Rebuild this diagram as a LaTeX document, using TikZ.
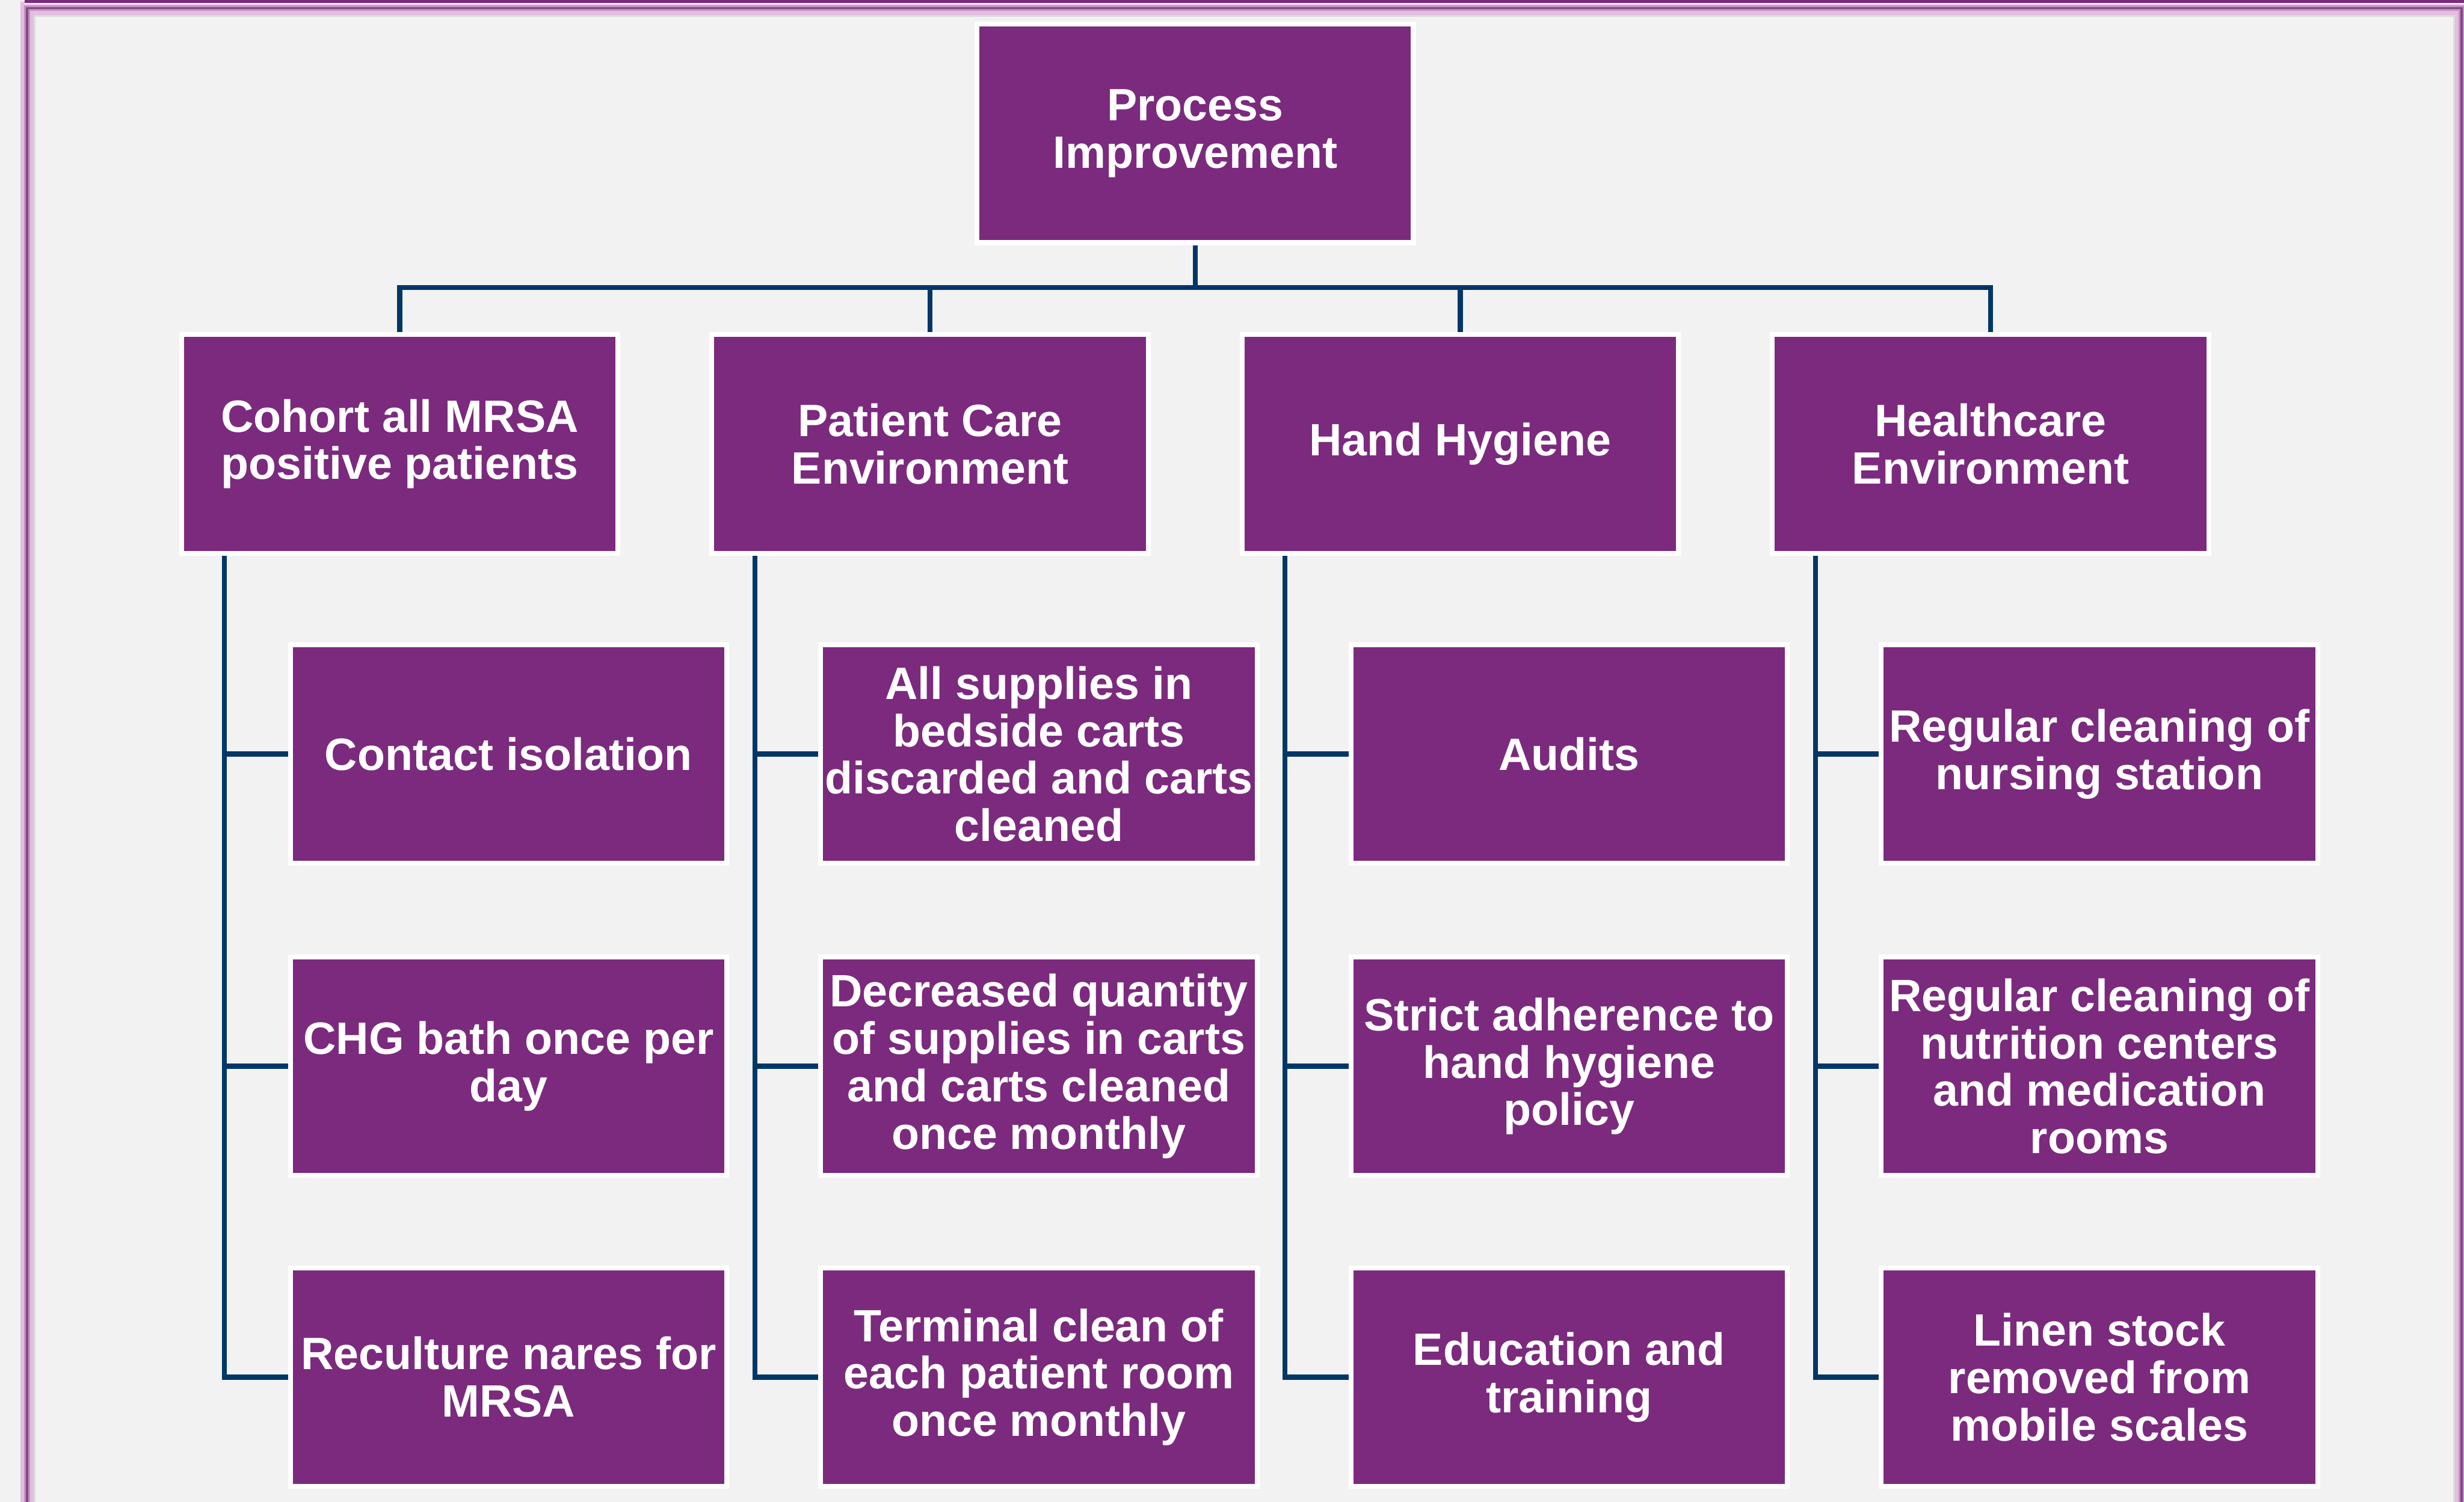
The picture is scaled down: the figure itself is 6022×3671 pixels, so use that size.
\documentclass[tikz,border=0pt]{standalone}
\usepackage{fontspec}
\setmainfont{Liberation Sans}
\usetikzlibrary{calc}
\definecolor{boxpurple}{HTML}{7B2A7E}
\definecolor{linknavy}{HTML}{003767}
\definecolor{pagegray}{HTML}{F2F2F2}
\definecolor{framedark}{HTML}{7E4A82}
\definecolor{frameglow}{HTML}{E2BEDF}
\definecolor{frameglowmid}{HTML}{C48EC1}
\definecolor{shadegray}{HTML}{DCDCDC}

\begin{document}
\begin{tikzpicture}[x=0.01cm,y=-0.01cm,
  box/.style={draw=white, line width=0.12cm, fill=boxpurple, text=white,
    minimum width=10.66cm, minimum height=5.34cm, inner sep=0pt,
    align=center, font=\fontsize{31.5}{33}\selectfont\bfseries},
  conn/.style={draw=linknavy, line width=0.12cm},
  rootlink/.style={conn},
  spine/.style={conn}]
% page background
\fill[pagegray] (0,0) rectangle (6022,3671);
\useasboundingbox (0,0) rectangle (6022,3671);

% framed panel with soft purple glow
\draw[shadegray, line width=0.14cm] (80,3700) -- (80,34) -- (6002,34) -- (6002,3700);
\draw[frameglow, line width=0.32cm] (66,3700) -- (66,20) -- (6016,20) -- (6016,3700);
\draw[frameglowmid, line width=0.14cm] (66,3700) -- (66,20) -- (6016,20) -- (6016,3700);
\draw[framedark, line width=0.05cm] (66,3700) -- (66,20) -- (6016,20) -- (6016,3700);
\fill[white] (61,8) rectangle (6022,11);
\fill[boxpurple] (61,0) rectangle (6022,8);

% root
\node[box] (top) at (2921,326) {Process\\Improvement};

% categories
\node[box] (c1) at (977,1085)  {Cohort all MRSA\\positive patients};
\node[box] (c2) at (2273,1085) {Patient Care\\Environment};
\node[box] (c3) at (3569,1085) {Hand Hygiene};
\node[box] (c4) at (4865,1085) {Healthcare\\Environment};

% actions
\node[box] (c1a) at (1243,1843) {Contact isolation};
\node[box] (c1b) at (1243,2606) {CHG bath once per\\day};
\node[box] (c1c) at (1243,3366) {Reculture nares for\\MRSA};

\node[box] (c2a) at (2539,1843) {All supplies in\\bedside carts\\discarded and carts\\cleaned};
\node[box] (c2b) at (2539,2606) {Decreased quantity\\of supplies in carts\\and carts cleaned\\once monthly};
\node[box] (c2c) at (2539,3366) {Terminal clean of\\each patient room\\once monthly};

\node[box] (c3a) at (3835,1843) {Audits};
\node[box] (c3b) at (3835,2606) {Strict adherence to\\hand hygiene\\policy};
\node[box] (c3c) at (3835,3366) {Education and\\training};

\node[box] (c4a) at (5131,1843) {Regular cleaning of\\nursing station};
\node[box] (c4b) at (5131,2606) {Regular cleaning of\\nutrition centers\\and medication\\rooms};
\node[box] (c4c) at (5131,3366) {Linen stock\\removed from\\mobile scales};

% root to categories via a shared bus
\coordinate (bus) at (2921,703);
\foreach \c in {c1,c2,c3,c4}
  \draw[rootlink] (top.south) -- (bus) -| (\c.north);

% category spines to their actions
\foreach \c in {c1,c2,c3,c4} {
  \coordinate (\c s) at ($(\c.south west)+(111,0)$);
  \foreach \k in {a,b,c}
    \draw[spine] (\c s) |- (\c\k.west);
}
\end{tikzpicture}
\end{document}
